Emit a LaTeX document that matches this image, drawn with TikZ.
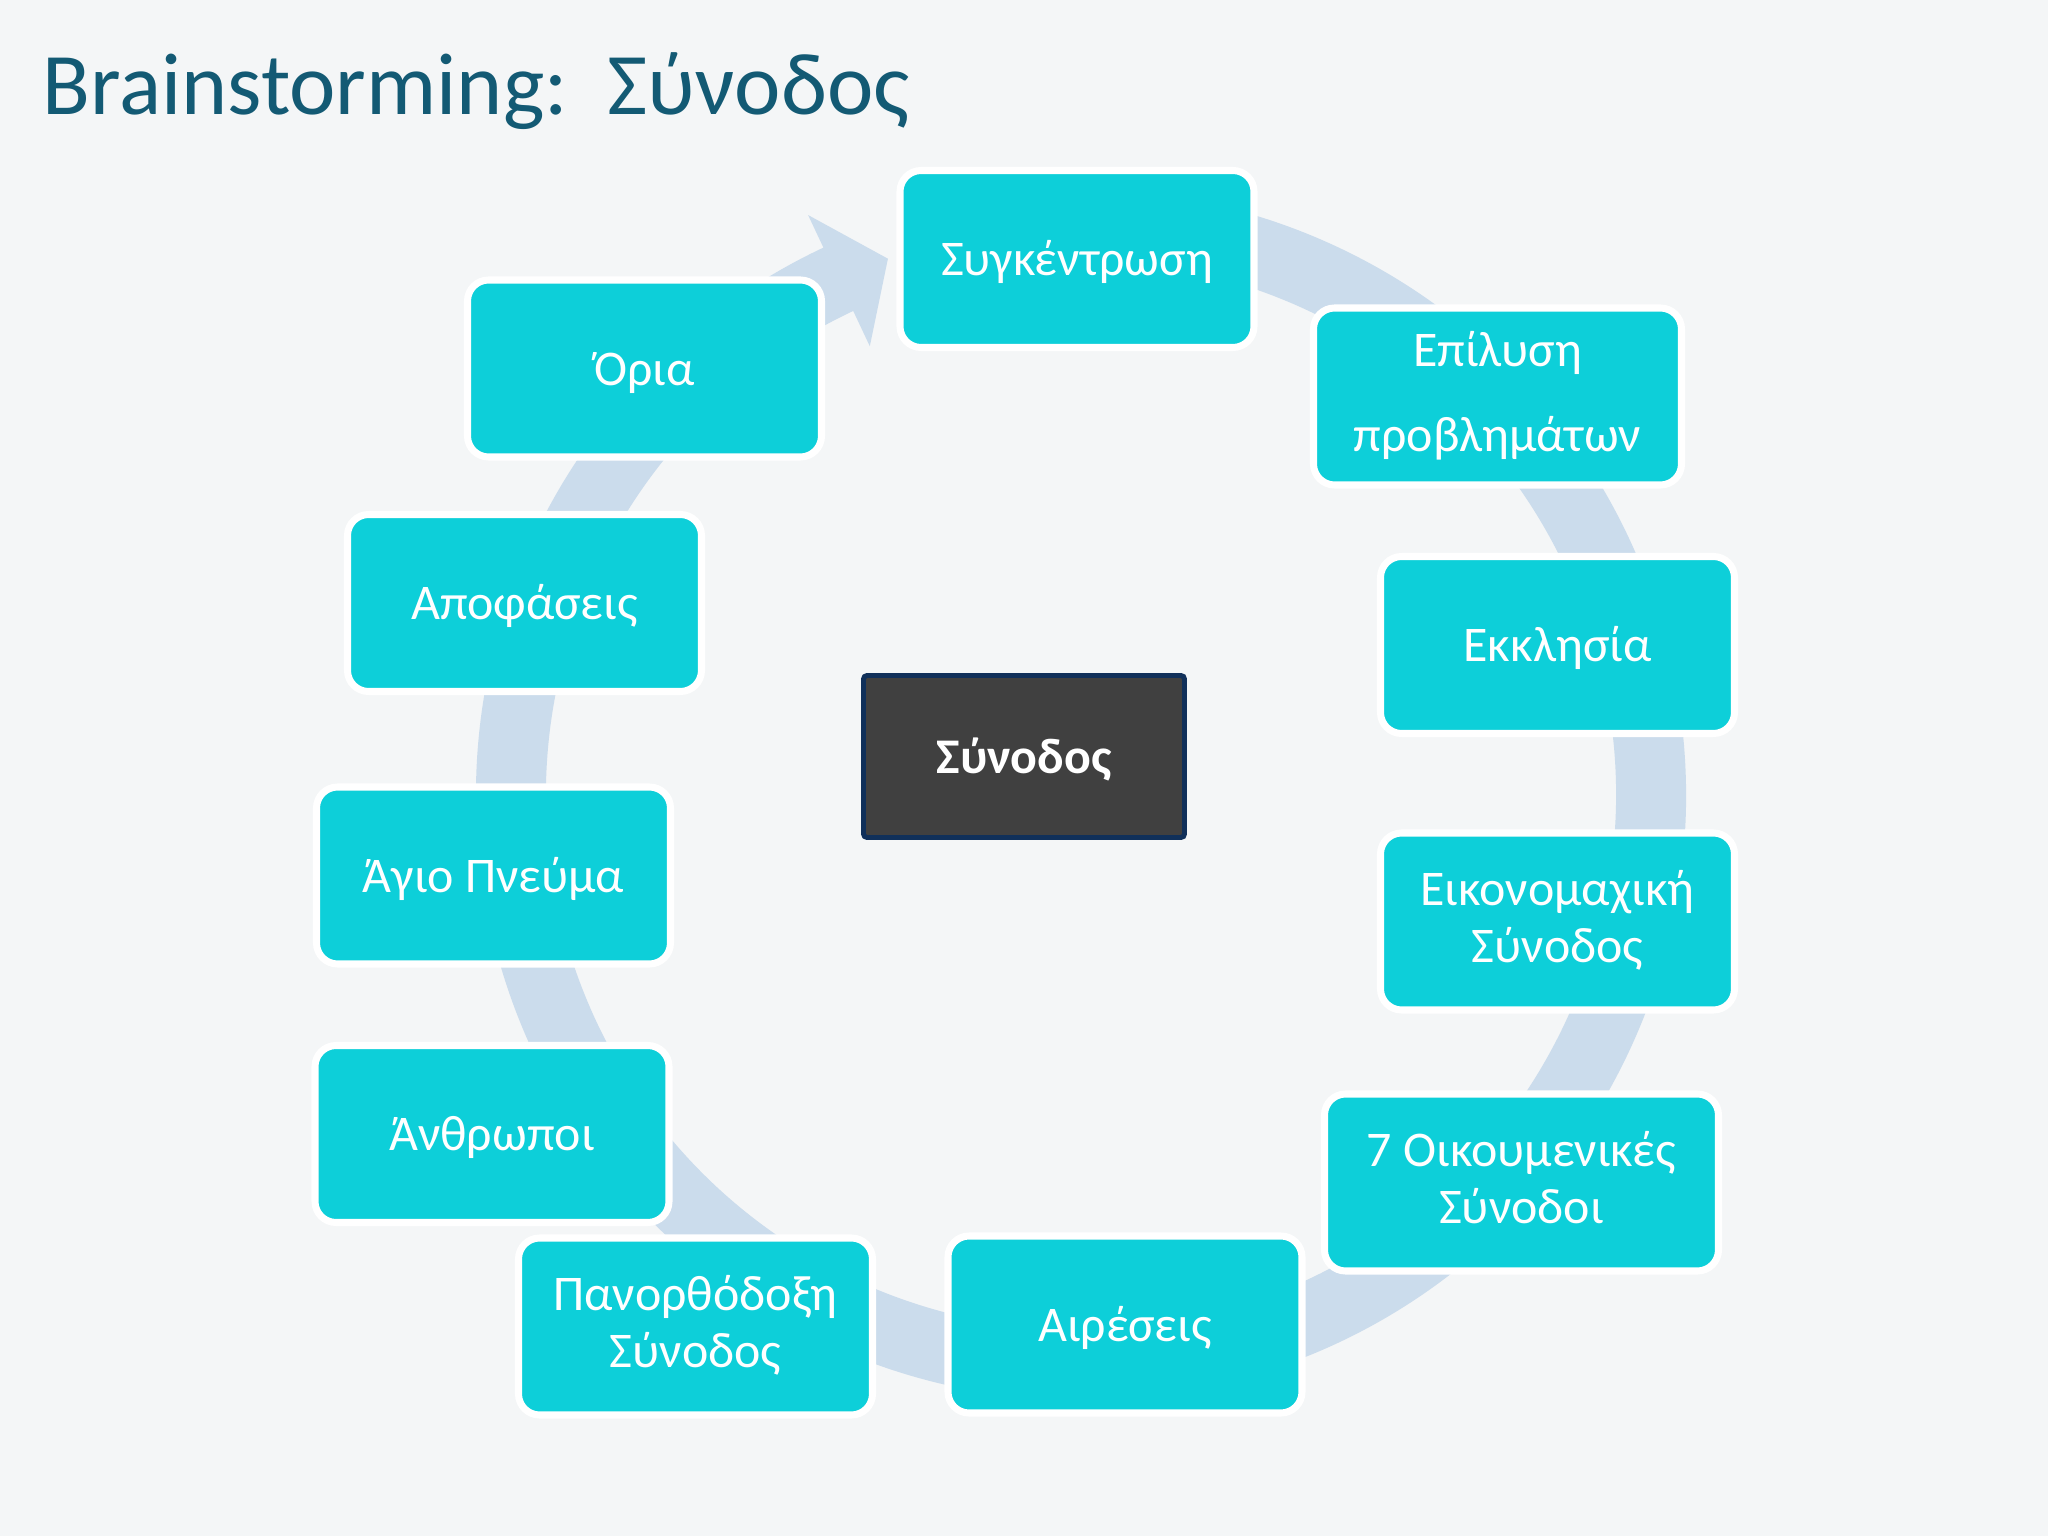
\documentclass[tikz,border=0pt]{standalone}
\usepackage{fontspec}
\setmainfont{Carlito}
\usepackage{tikz}
\usetikzlibrary{positioning,calc,arrows.meta}

\definecolor{bgpaper}{HTML}{F4F6F7}
\definecolor{titleteal}{HTML}{135A74}
\definecolor{boxcyan}{HTML}{0DCFD9}
\definecolor{ringblue}{HTML}{CBDCEC}
\definecolor{coregray}{HTML}{404040}
\definecolor{corenavy}{HTML}{10305A}

% same line box on every line, as the slide does
\newcommand\ideastrut{\rule[-0.22em]{0pt}{1.12em}}

\tikzset{
  idea/.style={rectangle,rounded corners=6pt,fill=boxcyan,draw=white,line width=2pt,
    minimum width=3.54cm,minimum height=1.77cm,align=center,text=white,
    font=\fontsize{14.2}{16.2}\selectfont,
    execute at begin node=\ideastrut,execute at end node=\ideastrut},
  core/.style={rectangle,rounded corners=1pt,fill=coregray,draw=corenavy,line width=1.4pt,
    minimum width=3.21cm,minimum height=1.62cm,text=white,
    font=\fontsize{14.2}{16.2}\selectfont\bfseries,
    execute at begin node=\ideastrut},
}

\begin{document}
\begin{tikzpicture}
\useasboundingbox (0,0) rectangle (20.48,-15.36);
\fill[bgpaper] (0,0) rectangle (20.48,-15.36);
% 1 unit = 100 px of the slide

% Title
\node[anchor=base west,inner sep=0pt,text=titleteal,font=\fontsize{25}{29}\selectfont] (title)
  at (0.42,-1.15) {Brainstorming:\ \ Σύνοδος};

% Centre of the ring
\coordinate (O) at (10.81,-7.95);

% Ring and its arrowhead
\fill[ringblue] ($(O)+(100:6.05)$) arc[start angle=100,end angle=-244.8,radius=6.05]
  -- ($(O)+(115.2:6.41)$) -- ($(O)+(109.8:5.70)$) -- ($(O)+(115.2:4.96)$)
  -- ($(O)+(115.2:5.35)$) arc[start angle=-244.8,end angle=100,radius=5.35] -- cycle;

% Boxes round the ring
\node[idea] (sygk) at (10.77,-2.59) {Συγκέντρωση};
\node[idea,minimum width=3.68cm] (epil) at (14.975,-3.965) {Επίλυση\\[8pt]προβλημάτων};
\node[idea] (ekkl) at (15.575,-6.45) {Εκκλησία};
\node[idea] (eikon) at (15.575,-9.215) {Εικονομαχική\\Σύνοδος};
\node[idea,minimum width=3.94cm] (oikoum) at (15.215,-11.825) {7 Οικουμενικές\\Σύνοδοι};
\node[idea] (aireseis) at (11.25,-13.245) {Αιρέσεις};
\node[idea] (panorth) at (6.955,-13.265) {Πανορθόδοξη\\Σύνοδος};
\node[idea] (anthr) at (4.92,-11.34) {Άνθρωποι};
\node[idea] (agio) at (4.935,-8.755) {Άγιο Πνεύμα};
\node[idea] (apof) at (5.245,-6.03) {Αποφάσεις};
\node[idea] (oria) at (6.445,-3.685) {Όρια};

% Centre box
\node[core] (synodos) at (10.24,-7.565) {Σύνοδος};

\end{tikzpicture}
\end{document}
